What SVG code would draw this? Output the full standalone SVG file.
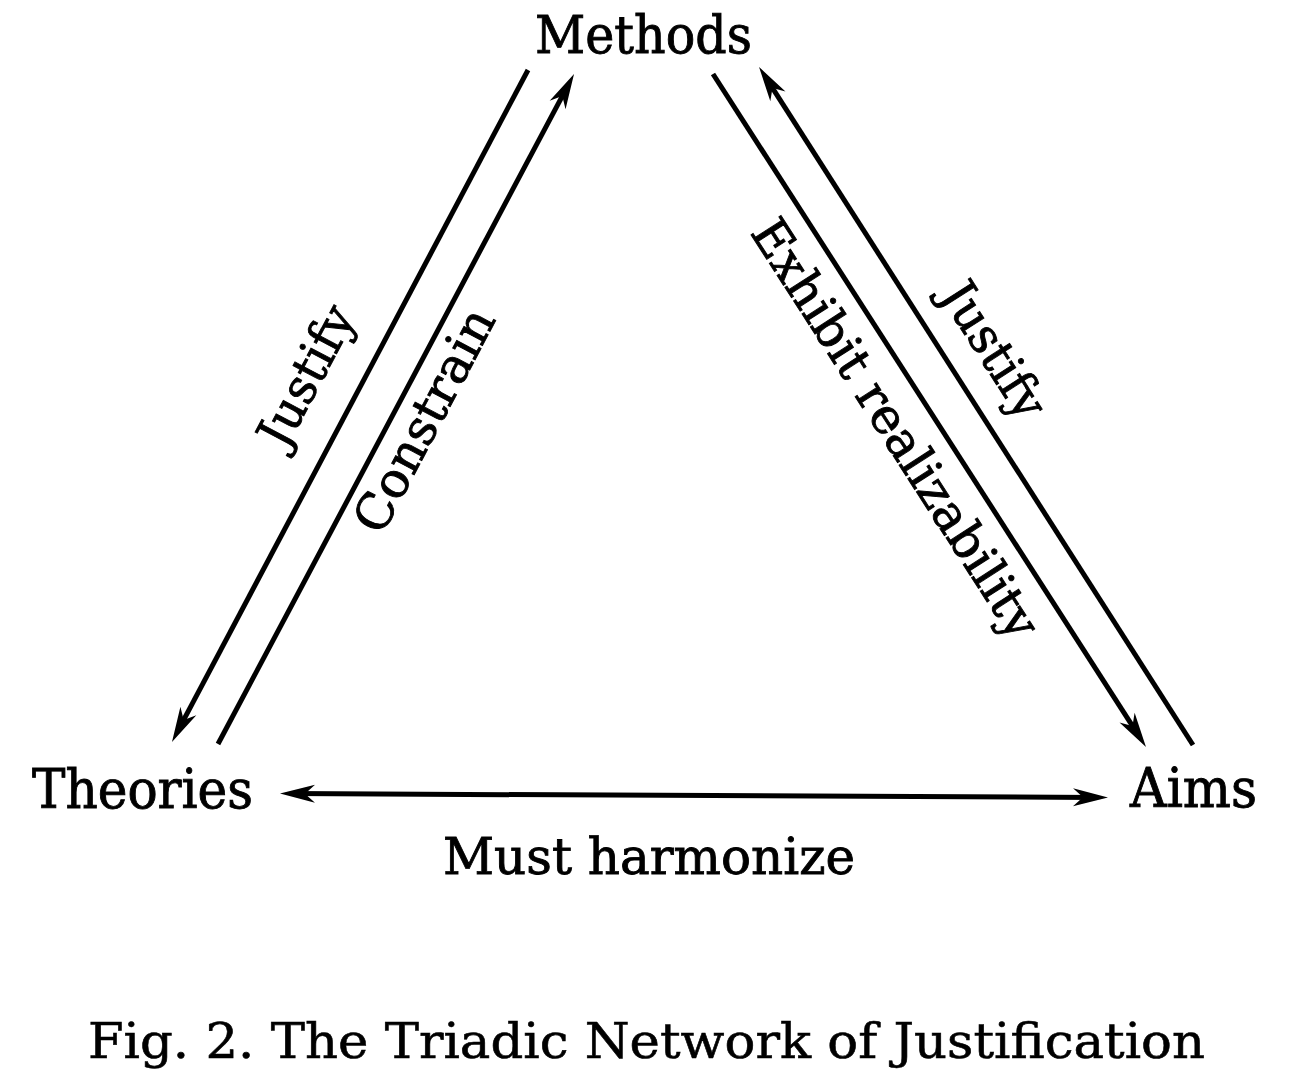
<svg xmlns="http://www.w3.org/2000/svg" width="1296" height="1080" viewBox="0 0 1296 1080">
<style>
.lbl{font-family:"DejaVu Serif","Liberation Serif",serif;fill:#000;stroke:#000;stroke-width:0.9;}
.edge{stroke:#000;stroke-width:5;fill:none;}
</style>
<defs>
<marker id="ah" viewBox="-40 -12 56 24" markerWidth="56" markerHeight="24" refX="-12" refY="0" orient="auto-start-reverse" markerUnits="userSpaceOnUse" overflow="visible">
<path d="M0,0 L-35,-9 L-25,0 L-35,9 Z" fill="#000"/>
</marker>
</defs>
<rect width="1296" height="1080" fill="#fff"/>
<g id="connectors">
<path class="edge" d="M528,70 L177.6,731.4" marker-end="url(#ah)"/>
<path class="edge" d="M218,744 L568.4,84.6" marker-end="url(#ah)"/>
<path class="edge" d="M713,74 L1139.5,736.9" marker-end="url(#ah)"/>
<path class="edge" d="M1193,745 L765.5,77.1" marker-end="url(#ah)"/>
<path class="edge" d="M292,793.6 L1096,797.4" marker-start="url(#ah)" marker-end="url(#ah)"/>
<text class="lbl" font-size="49" text-anchor="middle" textLength="152" lengthAdjust="spacingAndGlyphs" transform="translate(321,383.6) rotate(-62.1)">Justify</text>
<text class="lbl" font-size="49" text-anchor="middle" textLength="246" lengthAdjust="spacingAndGlyphs" transform="translate(439,428) rotate(-62.1)">Constrain</text>
<text class="lbl" font-size="49" text-anchor="middle" textLength="488" lengthAdjust="spacingAndGlyphs" transform="translate(881.4,437.6) rotate(57.25)">Exhibit realizability</text>
<text class="lbl" font-size="49" text-anchor="middle" textLength="152" lengthAdjust="spacingAndGlyphs" transform="translate(980,359) rotate(57.4)">Justify</text>
<text class="lbl" font-size="51" x="443" y="874" textLength="412" lengthAdjust="spacingAndGlyphs">Must harmonize</text>
</g>
<g id="methods"><text class="lbl" font-size="53" x="535" y="53" textLength="217" lengthAdjust="spacingAndGlyphs">Methods</text></g>
<g id="theories"><text class="lbl" font-size="54" x="32" y="808" textLength="221" lengthAdjust="spacingAndGlyphs">Theories</text></g>
<g id="aims"><text class="lbl" font-size="54" x="1130" y="807" textLength="127" lengthAdjust="spacingAndGlyphs">Aims</text></g>
<g id="caption"><text class="lbl" font-size="49" x="88" y="1058" textLength="1117" lengthAdjust="spacingAndGlyphs" style="stroke-width:0.6">Fig. 2. The Triadic Network of Justification</text></g>
</svg>
